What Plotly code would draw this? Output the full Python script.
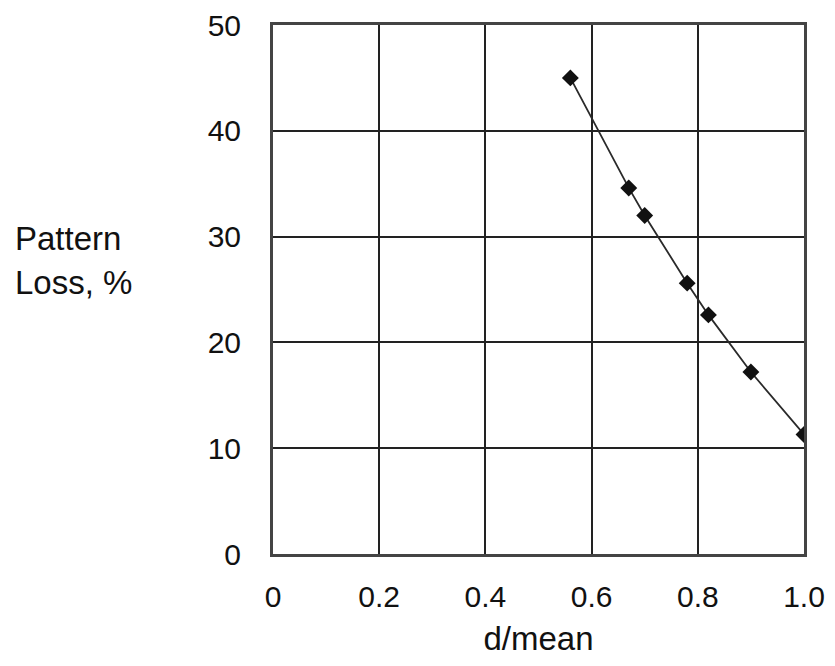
import plotly.graph_objects as go

d_mean = [0.56, 0.67, 0.70, 0.78, 0.82, 0.90, 1.0]
pattern_loss = [45.0, 34.6, 32.0, 25.6, 22.6, 17.2, 11.3]

x_ticks = [0, 0.2, 0.4, 0.6, 0.8, 1.0]
x_labels = ["0", "0.2", "0.4", "0.6", "0.8", "1.0"]
y_ticks = [0, 10, 20, 30, 40, 50]
y_labels = ["0", "10", "20", "30", "40", "50"]

font = "Liberation Sans, Arial, sans-serif"
fs = 30
fs_title = 33

fig = go.Figure()
fig.add_trace(go.Scatter(
    x=d_mean, y=pattern_loss, mode="lines+markers",
    line=dict(color="#2a2a2a", width=1.8),
    marker=dict(symbol="diamond", size=13, color="#111111"),
    showlegend=False,
))

fig.update_layout(
    width=827, height=650,
    margin=dict(l=265, r=31, t=17, b=104),
    paper_bgcolor="white", plot_bgcolor="white",
    font=dict(family=font, size=fs, color="#111111"),
    xaxis=dict(
        range=[0, 1.0], tickvals=x_ticks, ticktext=x_labels,
        showgrid=True, gridcolor="#222222", gridwidth=1.5,
        showline=True, linecolor="#444444", linewidth=3, mirror=True,
        zeroline=False, ticks="", ticklabelstandoff=14,
        ticklabeloverflow="allow", automargin=False,
        title=dict(text="d/mean", font=dict(size=fs_title), standoff=15),
    ),
    yaxis=dict(
        range=[0, 50], tickvals=y_ticks, ticktext=y_labels,
        showgrid=True, gridcolor="#222222", gridwidth=1.5,
        showline=True, linecolor="#444444", linewidth=3, mirror=True,
        zeroline=False, ticks="", ticklabelstandoff=23,
        ticklabeloverflow="allow", automargin=False,
    ),
    annotations=[
        dict(text="Pattern", xref="paper", yref="paper",
             x=-0.49, y=0.597, xanchor="left", yanchor="middle",
             showarrow=False, font=dict(size=fs_title, family=font)),
        dict(text="Loss, %", xref="paper", yref="paper",
             x=-0.49, y=0.514, xanchor="left", yanchor="middle",
             showarrow=False, font=dict(size=fs_title, family=font)),
    ],
)

fig.write_html("out.html")
